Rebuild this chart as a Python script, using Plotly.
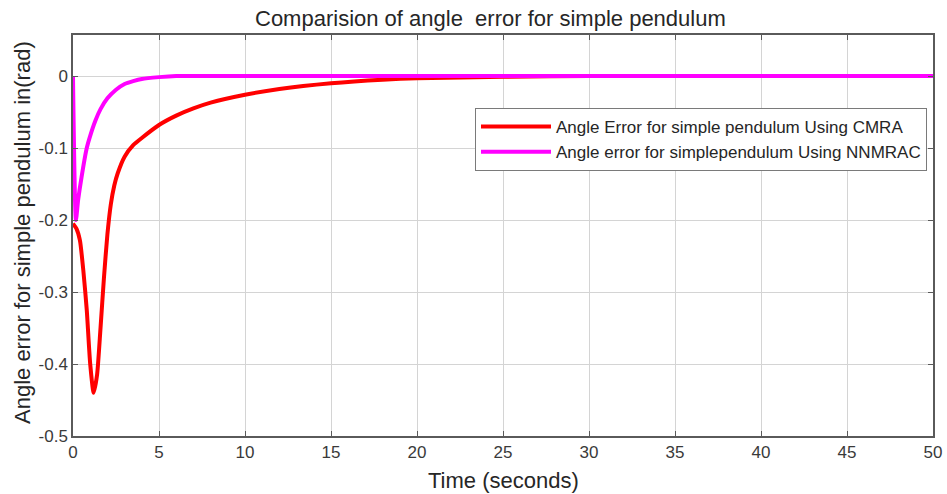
import plotly.graph_objects as go

# Red: CMRA angle error
t_cmra = [0, 0.2, 0.4, 0.6, 0.8, 1.0, 1.2, 1.4, 1.6, 1.8, 2.0, 2.2, 2.4, 2.6, 3.0, 3.5, 4, 5, 6, 7, 8, 10, 12, 15, 18, 20, 25, 30, 50]
e_cmra = [-0.205, -0.212, -0.228, -0.27, -0.325, -0.40, -0.44, -0.415, -0.35, -0.28, -0.22, -0.178, -0.152, -0.135, -0.112, -0.096, -0.086, -0.068, -0.055, -0.045, -0.037, -0.026, -0.018, -0.010, -0.005, -0.003, -0.001, 0, 0]

# Magenta: NNMRAC angle error
t_nn = [0, 0.17, 0.3, 0.5, 0.8, 1.0, 1.3, 1.6, 2.0, 2.5, 3, 3.5, 4, 5, 6, 50]
e_nn = [0, -0.2, -0.172, -0.14, -0.10, -0.083, -0.062, -0.046, -0.031, -0.019, -0.011, -0.007, -0.004, -0.0015, 0, 0]

x_ticks = [0, 5, 10, 15, 20, 25, 30, 35, 40, 45, 50]
y_ticks = [-0.5, -0.4, -0.3, -0.2, -0.1, 0]
y_labels = ["-0.5", "-0.4", "-0.3", "-0.2", "-0.1", "0"]

title_text = "Comparision of angle  error for simple pendulum"
x_title = "Time (seconds)"
y_title = "Angle error for simple pendulum in(rad)"

font = "Liberation Sans, Arial, sans-serif"
grid = "#d4d4d4"
axc = "#5a5a5a"
txt = "#262626"

fig = go.Figure()
fig.add_trace(go.Scatter(x=t_cmra, y=e_cmra, mode="lines", line=dict(color="#ff0000", width=4, shape="spline", smoothing=0.6),
                         name="Angle Error for simple pendulum Using CMRA"))
fig.add_trace(go.Scatter(x=t_nn, y=e_nn, mode="lines", line=dict(color="#ff00ff", width=4, shape="spline", smoothing=0.6),
                         name="Angle error for simplependulum Using NNMRAC"))

L, R, T, B = 73, 14, 35, 58
W, H = 947, 494
pw, ph = W - L - R, H - T - B

fig.update_layout(
    width=W, height=H,
    margin=dict(l=L, r=R, t=T, b=B, autoexpand=False),
    paper_bgcolor="white", plot_bgcolor="white",
    font=dict(family=font, color=txt, size=17),
    legend=dict(x=(927 - L) / pw, xanchor="right", y=(H - B - 108) / ph, yanchor="top", bgcolor="white",
                bordercolor="#7a7a7a", borderwidth=1,
                font=dict(size=17, family=font, color=txt), itemwidth=70, tracegroupgap=0),
    showlegend=True,
    annotations=[
        dict(text=title_text, xref="paper", yref="paper", x=(490 - L) / pw, y=(H - B - 18) / ph,
             xanchor="center", yanchor="middle", showarrow=False, font=dict(size=22, family=font, color=txt)),
        dict(text=x_title, xref="paper", yref="paper", x=(503 - L) / pw, y=(H - B - 480) / ph,
             xanchor="center", yanchor="middle", showarrow=False, font=dict(size=22, family=font, color=txt)),
        dict(text=y_title, xref="paper", yref="paper", x=(22 - L) / pw, y=(H - B - 233) / ph, textangle=-90,
             xanchor="center", yanchor="middle", showarrow=False, font=dict(size=22, family=font, color=txt)),
    ],
)
fig.update_xaxes(range=[0, 50], tickvals=x_ticks, ticktext=[str(v) for v in x_ticks], automargin=False,
                 showgrid=True, gridcolor=grid, gridwidth=1, zeroline=False,
                 showline=True, linecolor=axc, linewidth=1.5, mirror="ticks", ticks="inside", ticklen=5, tickcolor=axc,
                 tickfont=dict(size=17, color="#3a3a3a"))
fig.update_yaxes(range=[-0.5, 0.057], tickvals=y_ticks, ticktext=y_labels, automargin=False,
                 showgrid=True, gridcolor=grid, gridwidth=1, zeroline=False,
                 showline=True, linecolor=axc, linewidth=1.5, mirror="ticks", ticks="inside", ticklen=5, tickcolor=axc,
                 tickfont=dict(size=17, color="#3a3a3a"))

fig.write_html("out.html", config={"displayModeBar": False},
               post_script="document.body.style.margin='0';document.body.style.overflow='hidden';")
